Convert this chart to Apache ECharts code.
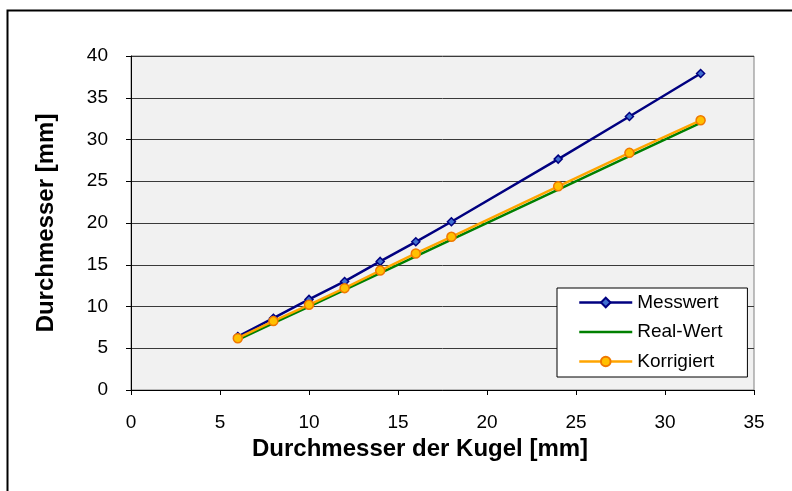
<!DOCTYPE html>
<html><head><meta charset="utf-8">
<script src="https://cdn.jsdelivr.net/npm/echarts@6/dist/echarts.min.js"></script>
<style>html,body{margin:0;padding:0;background:#fff}#c{width:792px;height:491px}</style>
</head><body><div id="c"></div>
<script>
const xValues = [6, 8, 10, 12, 14, 16, 18, 24, 28, 32];
const messwert = [6.4, 8.6, 10.85, 13.0, 15.4, 17.75, 20.15, 27.65, 32.75, 37.9];
const realWert = [6, 8, 10, 12, 14, 16, 18, 24, 28, 32];
const korrigiert = [6.2, 8.25, 10.2, 12.2, 14.3, 16.35, 18.35, 24.4, 28.4, 32.3];
const seriesNames = ['Messwert', 'Real-Wert', 'Korrigiert'];
const xTitle = 'Durchmesser der Kugel [mm]';
const yTitle = 'Durchmesser [mm]';

const pair = (ys) => xValues.map((x, i) => [x, ys[i]]);
const font = 'Liberation Sans, Arial, sans-serif';
const chart = echarts.init(document.getElementById('c'), null, {renderer: 'canvas'});
chart.setOption({
  animation: false,
  backgroundColor: '#fff',
  grid: {left: 131, top: 56, right: 38, bottom: 101, show: true, backgroundColor: '#f1f1f1', borderColor: '#808080', borderWidth: 1},
  xAxis: {
    type: 'value', min: 0, max: 35, interval: 5,
    axisLine: {show: true, lineStyle: {color: '#000', width: 1}},
    axisTick: {show: true, length: 5, lineStyle: {color: '#000'}},
    axisLabel: {color: '#000', fontSize: 19, fontFamily: font, margin: 23},
    splitLine: {show: false}
  },
  yAxis: {
    type: 'value', min: 0, max: 40, interval: 5,
    name: yTitle, nameLocation: 'middle', nameGap: 73,
    nameTextStyle: {color: '#000', fontSize: 24, fontWeight: 'bold', fontFamily: font},
    axisLine: {show: true, lineStyle: {color: '#000', width: 1}},
    axisTick: {show: true, length: 5, lineStyle: {color: '#000'}},
    axisLabel: {color: '#000', fontSize: 19, fontFamily: font, margin: 23},
    splitLine: {show: true, lineStyle: {color: '#3a3a3a', width: 1}}
  },
  legend: {
    orient: 'vertical', left: 557, top: 288,
    backgroundColor: '#fff', borderColor: '#000', borderWidth: 1,
    padding: [5, 25, 6, 21], itemGap: 10.5, itemWidth: 53, itemHeight: 12,
    lineStyle: {width: 2.5},
    textStyle: {color: '#000', fontSize: 19, fontFamily: font},
    data: [
      seriesNames[0],
      {name: seriesNames[1], itemStyle: {opacity: 0, color: 'rgba(0,0,0,0)', borderWidth: 0}},
      seriesNames[2]
    ]
  },
  graphic: [
    {type: 'rect', left: 5, top: 8, shape: {width: 800, height: 500}, style: {fill: null, stroke: '#000', lineWidth: 2}, silent: true, z: 100},
    {type: 'text', left: 252, top: 437, style: {text: xTitle, fill: '#000', fontSize: 24, fontWeight: 'bold', fontFamily: font}}
  ],
  series: [
    {name: seriesNames[0], type: 'line', data: pair(messwert), symbol: 'diamond', symbolSize: 8,
     lineStyle: {color: '#000080', width: 2.5}, itemStyle: {color: '#3f6fd0', borderColor: '#000080', borderWidth: 1.5}, z: 3},
    {name: seriesNames[1], type: 'line', data: pair(realWert), symbol: 'none',
     lineStyle: {color: '#008000', width: 2.5}, itemStyle: {color: '#008000'}, z: 2},
    {name: seriesNames[2], type: 'line', data: pair(korrigiert), symbol: 'circle', symbolSize: 9,
     lineStyle: {color: '#ffa500', width: 2.5}, itemStyle: {color: '#ffc000', borderColor: '#f07800', borderWidth: 1.5}, z: 4}
  ]
});
</script></body></html>
